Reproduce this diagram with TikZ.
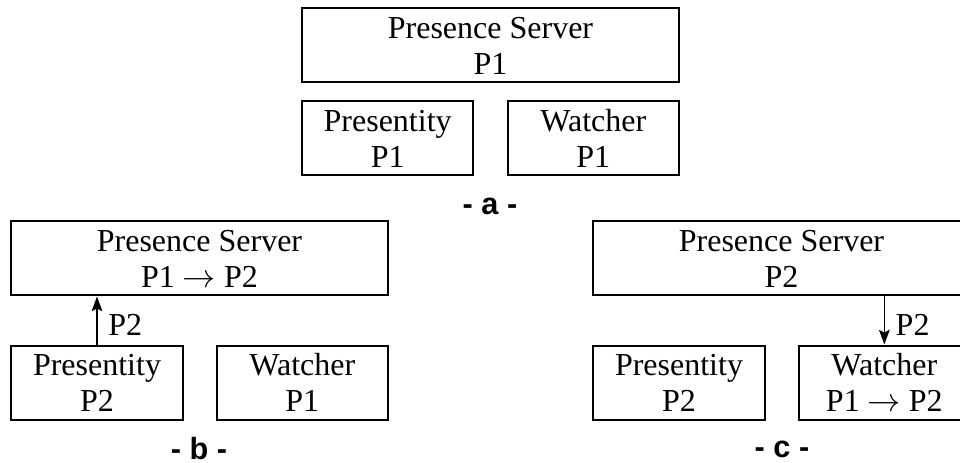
\documentclass[tikz,border=0pt]{standalone}
\usepackage{fontspec}
\setmainfont{Liberation Serif}
\newfontfamily\capfont{Liberation Sans}
\usepackage{tikz}
\usetikzlibrary{arrows.meta, positioning}

\begin{document}
\begin{tikzpicture}[
  x=0.75pt, y=-0.75pt,
  box/.style={rectangle, draw=black, line width=1.5pt, minimum width=128.5pt, minimum height=55.5pt, inner sep=0pt, align=center, font=\fontsize{24}{27}\selectfont},
  srv/.style={box, minimum width=282.75pt},
  msg/.style={-{Stealth[length=11pt, width=8pt, inset=2pt]}, line width=1.1pt},
  val/.style={font=\fontsize{24}{27}\selectfont, inner sep=3pt, xshift=5pt},
  tag/.style={font=\capfont\bfseries\fontsize{23}{27}\selectfont, inner sep=0pt}
]
  \useasboundingbox (0,0) rectangle (960,463);

  % - a -
  \node[srv] (srvA) at (490.5,45.5) {Presence Server\\P1};
  \node[box, below right=12.75pt and 0pt of srvA.south west] (preA) {Presentity\\P1};
  \node[box, below left=12.75pt and 0pt of srvA.south east] (watA) {Watcher\\P1};
  \node[tag] (tagA) at (490,206) {- a -};

  % - b -
  \node[srv] (srvB) at (199.5,258.5) {Presence Server\\P1 $\rightarrow$ P2};
  \node[box, minimum width=129pt, below right=36pt and 0pt of srvB.south west] (preB) {Presentity\\P2};
  \node[box, below left=36pt and 0pt of srvB.south east] (watB) {Watcher\\P1};
  \node[tag] (tagB) at (199,449) {- b -};
  \draw[msg] (preB) -- node[val, right, pos=0.4] {P2} (preB |- srvB.south);

  % - c -
  \node[srv] (srvC) at (781.5,258.5) {Presence Server\\P2};
  \node[box, minimum width=129pt, below right=36pt and 0pt of srvC.south west] (preC) {Presentity\\P2};
  \node[box, below left=36pt and 0pt of srvC.south east] (watC) {Watcher\\P1 $\rightarrow$ P2};
  \node[tag] (tagC) at (782,449) {- c -};
  \draw[msg] (watC |- srvC.south) -- node[val, right, pos=0.6] {P2} (watC);
\end{tikzpicture}
\end{document}
